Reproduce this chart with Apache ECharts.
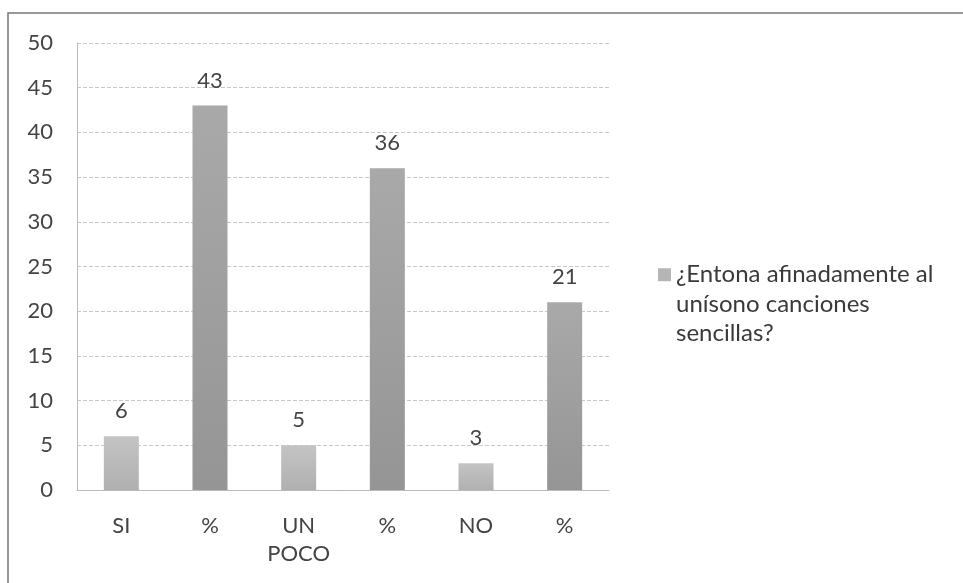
<!DOCTYPE html>
<html>
<head>
<meta charset="utf-8">
<script src="https://cdn.jsdelivr.net/npm/echarts@6/dist/echarts.min.js"></script>
<style>
  html, body { margin: 0; padding: 0; background: #fff; }
  #main { width: 963px; height: 583px; }
</style>
</head>
<body>
<div id="main"></div>
<script>
var categories = ["SI", "%", "UN POCO", "%", "NO", "%"];
var values = [6, 43, 5, 36, 3, 21];
var seriesName = "¿Entona afinadamente al unísono canciones sencillas?";
var legendLines = ["¿Entona afinadamente al", "unísono canciones", "sencillas?"];
var yTicks = { min: 0, max: 50, step: 5 };

var chartDom = document.getElementById("main");
var myChart = echarts.init(chartDom);

function barColor(i) {
  // las barras de porcentaje salen mas oscuras en el escaneo
  var dark = i % 2 === 1;
  return new echarts.graphic.LinearGradient(0, 0, 0, 1, [
    { offset: 0, color: dark ? "#a9a9a9" : "#c4c4c4" },
    { offset: 1, color: dark ? "#959595" : "#b0b0b0" }
  ]);
}

var option = {
  backgroundColor: "#fff",
  textStyle: { fontFamily: "Lato" },
  grid: { left: 77, right: 354, top: 43, bottom: 93 },
  legend: {
    orient: "vertical",
    left: 653,
    top: 196,
    itemWidth: 13,
    itemHeight: 13,
    itemGap: 0,
    icon: "rect",
    data: [seriesName],
    // dos lineas vacias arriba para que el cuadrito quede en la primera linea
    formatter: function () {
      return " \n \n" + legendLines.join("\n");
    },
    textStyle: { fontSize: 24, color: "#3a3a3a", lineHeight: 29.5 }
  },
  graphic: [
    {
      type: "polyline",
      shape: { points: [[8, 583], [8, 13], [963, 13]] },
      style: { stroke: "#777", lineWidth: 1.5, fill: null }
    }
  ],
  xAxis: {
    type: "category",
    data: categories,
    axisLine: { lineStyle: { color: "#bbb" } },
    axisTick: { show: false },
    axisLabel: {
      interval: 0,
      margin: 22,
      fontSize: 22,
      color: "#444",
      lineHeight: 28,
      formatter: function (v) { return v.replace(" ", "\n"); }
    }
  },
  yAxis: {
    type: "value",
    min: yTicks.min,
    max: yTicks.max,
    interval: yTicks.step,
    axisLine: { show: true, lineStyle: { color: "#bbb" } },
    axisTick: { show: false },
    axisLabel: { fontSize: 22, color: "#444", margin: 24 },
    splitLine: { lineStyle: { color: "#c8c8c8", type: "dashed" } }
  },
  series: [
    {
      name: seriesName,
      type: "bar",
      barWidth: 35,
      itemStyle: { color: "#b5b5b5" },
      data: values.map(function (v, i) {
        return { value: v, itemStyle: { color: barColor(i) } };
      }),
      label: {
        show: true,
        position: "top",
        distance: 14,
        fontSize: 22,
        color: "#444"
      }
    }
  ]
};

myChart.setOption(option);
window.addEventListener("resize", function () { myChart.resize(); });
</script>
</body>
</html>
